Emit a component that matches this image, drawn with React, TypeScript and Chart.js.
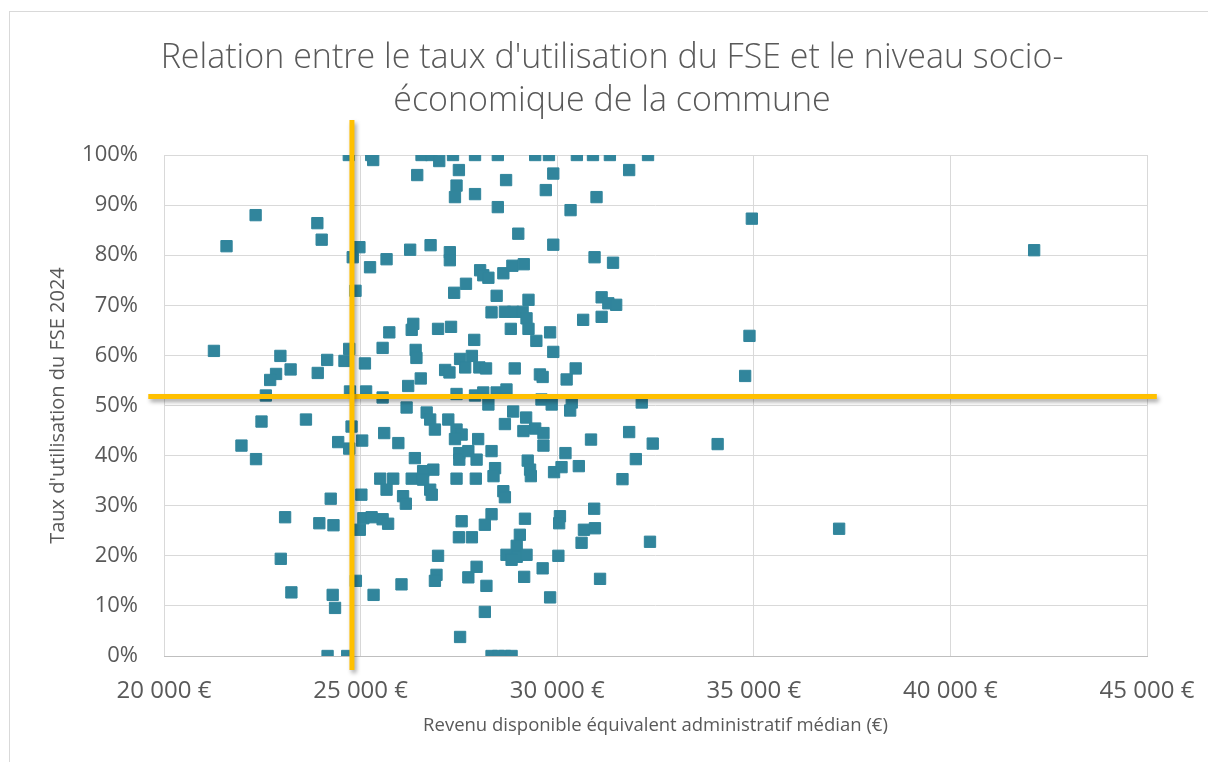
import React, { useEffect, useRef } from "react";
import { Chart, registerables } from "chart.js";

Chart.register(...registerables);

// Revenu disponible équivalent administratif médian (€)
const revenu: number[] = [
  24700, 25270, 25320, 26550, 26800, 27000, 27350, 27910, 28490, 29440,
  29790, 30500, 30910, 31340, 32310, 26440, 27500, 27440, 27400, 27910,
  28490, 28700, 29010, 29900, 29710, 31830, 31000, 30340, 29900, 22330,
  21590, 23900, 24010, 24970, 24800, 25240, 25660, 26260, 26780, 27270,
  27270, 28040, 28120, 28250, 28630, 28860, 29150, 30950, 31420, 27680,
  27380, 28460, 29270, 24870, 31130, 31300, 31500, 28330, 28670, 28880,
  29120, 29220, 31130, 30660, 25730, 26300, 26340, 26970, 27300, 28820,
  29270, 29820, 29470, 27890, 25560, 26400, 26420, 24710, 21270, 29900,
  22960, 24150, 24590, 25110, 23220, 22850, 22700, 23910, 27150, 27260,
  27530, 27830, 27660, 28020, 28190, 28920, 29560, 29630, 30470, 30240,
  26210, 26530, 22590, 24730, 25140, 25560, 27440, 27910, 28120, 28460,
  28710, 29600, 29860, 30370, 30330, 32150, 28250, 26170, 28880, 29210,
  26680, 26770, 26890, 27230, 27440, 27570, 27400, 27990, 28670, 25600,
  25960, 29140, 29440, 29650, 29650, 30860, 31830, 32430, 22480, 23610,
  21970, 22340, 24770, 24430, 24710, 25040, 28330, 26380, 27510, 27510,
  27740, 27950, 30210, 32000, 28420, 28380, 29250, 29310, 29330, 29920,
  30110, 30550, 31660, 25500, 25830, 25660, 26300, 26590, 26850, 26590,
  26770, 26810, 27440, 27930, 28630, 28670, 26080, 26150, 25020, 24240,
  30940, 30070, 30050, 29180, 28330, 28160, 27570, 25560, 25700, 25070,
  25280, 24980, 23080, 23950, 24310, 30680, 30960, 30620, 32360, 29050,
  28970, 28970, 29220, 30030, 27500, 27830, 26970, 28710, 28840, 22970,
  29630, 27950, 27740, 26930, 26890, 29160, 31090, 24880, 26040, 28200,
  23240, 24290, 24350, 25330, 29820, 28160, 27530, 24160, 24660, 28330,
  28500, 28670, 28840, 34950, 34890, 34780, 34080, 37170, 42130,
];

// Taux d'utilisation du FSE 2024 (%)
const taux: number[] = [
  100, 100, 99, 100, 100, 98.8, 100, 100, 100, 100,
  100, 100, 100, 100, 100, 96, 97, 93.9, 91.6, 92.2,
  89.6, 95, 84.3, 96.3, 93, 97, 91.6, 89, 82.1, 88,
  81.8, 86.4, 83.1, 81.6, 79.6, 77.6, 79.2, 81.1, 82, 80.6,
  79, 77, 76, 75.5, 76.4, 77.9, 78.2, 79.6, 78.5, 74.3,
  72.5, 71.9, 71.1, 72.9, 71.6, 70.4, 70.1, 68.6, 68.7, 68.7,
  68.7, 67.4, 67.7, 67.1, 64.6, 65.1, 66.3, 65.3, 65.7, 65.3,
  65.3, 64.6, 62.9, 63.1, 61.5, 61.1, 59.5, 61.3, 60.9, 60.7,
  59.9, 59.1, 58.9, 58.4, 57.2, 56.3, 55.1, 56.5, 57.1, 56.6,
  59.3, 59.9, 57.6, 57.6, 57.4, 57.4, 56.2, 55.7, 57.4, 55.2,
  53.9, 55.4, 52, 52.8, 52.8, 51.6, 52.3, 52, 52.6, 52.6,
  53.2, 51.2, 50.2, 50.6, 49, 50.6, 50.2, 49.6, 48.8, 47.6,
  48.6, 47.2, 45.2, 47.2, 45.2, 44.2, 43.3, 43.3, 46.3, 44.5,
  42.5, 44.9, 45.4, 44.5, 42, 43.2, 44.7, 42.4, 46.8, 47.2,
  42, 39.3, 45.8, 42.7, 41.4, 43, 40.9, 39.5, 40.5, 39.2,
  40.9, 39.2, 40.5, 39.3, 37.5, 35.9, 39, 37.2, 35.9, 36.7,
  37.7, 37.9, 35.3, 35.4, 35.4, 33.2, 35.4, 36.9, 37.2, 35.2,
  33.2, 32.2, 35.4, 35.4, 32.9, 31.7, 31.9, 30.4, 32.2, 31.4,
  29.4, 27.9, 26.5, 27.4, 28.3, 26.2, 26.9, 27.3, 26.4, 27.5,
  27.7, 25.2, 27.7, 26.5, 26.1, 25.2, 25.5, 22.6, 22.8, 24.2,
  22, 19.8, 20.2, 20, 23.7, 23.7, 20, 20.2, 19.2, 19.4,
  17.5, 17.8, 15.7, 16.2, 15, 15.8, 15.4, 15, 14.3, 14,
  12.7, 12.2, 9.6, 12.2, 11.7, 8.8, 3.8, 0, 0, 0,
  0, 0, 0, 87.3, 63.9, 55.9, 42.3, 25.4, 81,
];

// Lignes de référence (médianes)
const seuilRevenu = 24780;
const seuilTaux = 51.8;
const ligneVerticaleTaux: number[] = [-2.8, 107];
const ligneHorizontaleRevenu: number[] = [19600, 45250];

// Axes
const xTicks: number[] = [20000, 25000, 30000, 35000, 40000, 45000];
const yTicks: number[] = [0, 10, 20, 30, 40, 50, 60, 70, 80, 90, 100];

const titre: string[] = [
  "Relation entre le taux d'utilisation du FSE et le niveau socio-",
  "économique de la commune",
];
const titreX = "Revenu disponible équivalent administratif médian (€)";
const titreY = "Taux d'utilisation du FSE 2024";

const FONT = "'Open Sans', 'Noto Sans', sans-serif";
const GREY = "#595959";

function formatEuro(v: number): string {
  return String(v).replace(/\B(?=(\d{3})+(?!\d))/g, "\u00a0") + "\u00a0€";
}

export default function App() {
  const ref = useRef<HTMLCanvasElement | null>(null);

  useEffect(() => {
    if (!ref.current) return;
    const points = revenu.map((x, i) => ({ x, y: taux[i] }));

    const shadowPlugin = {
      id: "lineShadow",
      beforeDatasetDraw(chart: any, args: any) {
        if (args.index < 2) {
          const c = chart.ctx;
          c.save();
          c.shadowColor = "rgba(0,0,0,0.35)";
          c.shadowBlur = 4;
          c.shadowOffsetX = 2;
          c.shadowOffsetY = 3;
        }
      },
      afterDatasetDraw(chart: any, args: any) {
        if (args.index < 2) chart.ctx.restore();
      },
    };

    const chart = new Chart(ref.current, {
      type: "scatter",
      data: {
        datasets: [
          {
            data: ligneVerticaleTaux.map((y) => ({ x: seuilRevenu, y })),
            showLine: true,
            borderColor: "#FFC000",
            backgroundColor: "#FFC000",
            borderWidth: 5,
            pointRadius: 0,
            clip: false,
          } as any,
          {
            data: ligneHorizontaleRevenu.map((x) => ({ x, y: seuilTaux })),
            showLine: true,
            borderColor: "#FFC000",
            backgroundColor: "#FFC000",
            borderWidth: 5,
            pointRadius: 0,
            clip: false,
          } as any,
          {
            data: points,
            pointStyle: "rect",
            pointRadius: 8,
            backgroundColor: "#31859C",
            borderColor: "#31859C",
            borderWidth: 1,
          } as any,
        ],
      },
      options: {
        responsive: false,
        animation: false,
        layout: { padding: { left: 67, right: 61, top: 0, bottom: 0 } },
        plugins: {
          legend: { display: false },
          tooltip: { enabled: false },
          title: {
            display: true,
            text: titre,
            color: GREY,
            font: { family: FONT, size: 34, weight: "300", lineHeight: 1.265 },
            padding: { top: 25, bottom: 32 },
          },
        },
        scales: {
          x: {
            type: "linear",
            min: xTicks[0],
            max: xTicks[xTicks.length - 1],
            afterBuildTicks: (s: any) => {
              s.ticks = xTicks.map((value) => ({ value }));
            },
            ticks: {
              callback: (v: any) => formatEuro(Number(v)),
              color: GREY,
              font: { family: FONT, size: 24 },
              padding: 21,
              maxRotation: 0,
            },
            grid: { color: "#D9D9D9", drawTicks: false, lineWidth: 1 },
            border: { color: "#BFBFBF", width: 1 },
            title: {
              display: true,
              text: titreX,
              color: GREY,
              font: { family: FONT, size: 18.5 },
              padding: { top: 0, bottom: 25 },
            },
            afterFit: (s: any) => {
              s.height = 106;
              s.paddingLeft = 0;
              s.paddingRight = 0;
            },
          },
          y: {
            type: "linear",
            min: yTicks[0],
            max: yTicks[yTicks.length - 1],
            afterBuildTicks: (s: any) => {
              s.ticks = yTicks.map((value) => ({ value }));
            },
            ticks: {
              callback: (v: any) => v + "%",
              color: GREY,
              font: { family: FONT, size: 22 },
              padding: 26,
            },
            grid: { color: "#D9D9D9", drawTicks: false, lineWidth: 1 },
            border: { display: false },
            title: {
              display: true,
              text: titreY,
              color: GREY,
              font: { family: FONT, size: 20 },
              padding: { top: -31, bottom: 0 },
            },
            afterFit: (s: any) => {
              s.width = 87;
              s.paddingTop = 0;
              s.paddingBottom = 0;
            },
          },
        },
      } as any,
      plugins: [shadowPlugin],
    });
    return () => chart.destroy();
  }, []);

  return (
    <div
      style={{
        position: "fixed",
        left: 0,
        top: 0,
        width: 1208,
        height: 762,
        overflow: "hidden",
        background: "#fff",
      }}
    >
      <div
        style={{
          position: "absolute",
          left: 9,
          top: 11,
          width: 1220,
          height: 770,
          border: "1px solid #D9D9D9",
          background: "#fff",
        }}
      >
        <canvas ref={ref} width={1198} height={750} style={{ display: "block" }} />
      </div>
    </div>
  );
}
